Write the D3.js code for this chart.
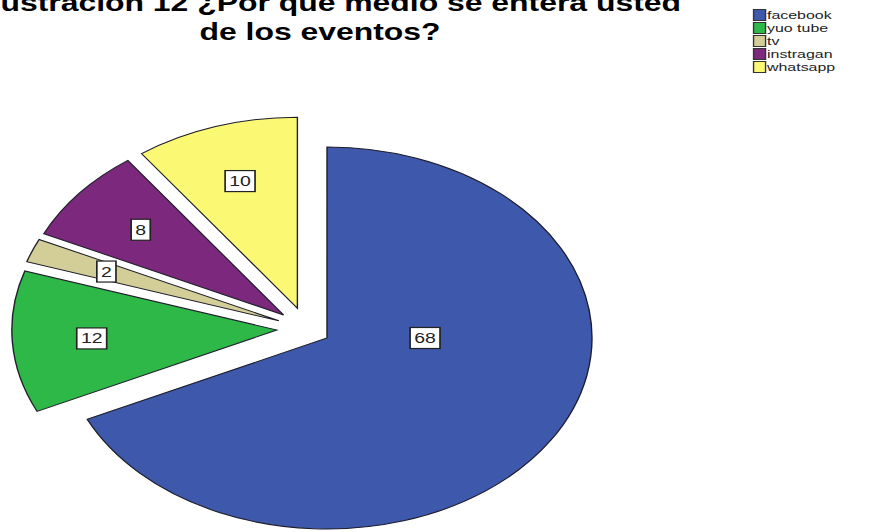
<!DOCTYPE html>
<html>
<head>
<meta charset="utf-8">
<script src="https://cdn.jsdelivr.net/npm/d3@7"></script>
<style>
  html, body { margin: 0; padding: 0; background: #fff; }
  svg { display: block; }
</style>
</head>
<body>
<svg id="chart" width="875" height="532"></svg>
<script>
// Survey answers: where people hear about events
const categories = ["facebook", "yuo tube", "tv", "instragan", "whatsapp"];
const values = [68, 12, 2, 8, 10];
const colors = ["#3e58ac", "#2eb848", "#d3ce97", "#7c287d", "#fbf873"];
const titleLines = ["Ilustración 12 ¿Por qué  medio se entera usted", "de los eventos?"];

const W = 875, H = 532;
const font = "'Liberation Sans', Arial, Helvetica, sans-serif";

// The whole figure is laid out on a narrower canvas and stretched wide.
const sx = 265 / 191;
const root = d3.select("#chart").append("g")
  .attr("transform", `scale(${sx},1)`);

// Title (first line runs past the top edge)
root.append("text")
  .attr("x", 681 / sx).attr("y", 10.5)
  .attr("text-anchor", "end")
  .attr("font-family", font).attr("font-weight", "bold").attr("font-size", 23)
  .attr("fill", "#000")
  .text(titleLines[0]);
root.append("text")
  .attr("x", 320 / sx).attr("y", 40)
  .attr("text-anchor", "middle")
  .attr("font-family", font).attr("font-weight", "bold").attr("font-size", 23)
  .attr("fill", "#000")
  .text(titleLines[1]);

// Pie geometry
const cx = 327 / sx, cy = 338, r = 191;
const pie = d3.pie().sort(null).value(d => d);
const arcs = pie(values);
const arc = d3.arc().innerRadius(0).outerRadius(r);

// Every slice except the first is pulled out: shared push along the
// group's mid angle plus a push along the slice's own mid angle.
const exploded = arcs.slice(1);
const groupMid = (exploded[0].startAngle + exploded[exploded.length - 1].endAngle) / 2;
const groupPush = 17.4, slicePush = 21.5;
function offset(d, i) {
  if (i === 0) return [0, 0];
  const mid = (d.startAngle + d.endAngle) / 2;
  return [
    groupPush * Math.sin(groupMid) + slicePush * Math.sin(mid),
    -(groupPush * Math.cos(groupMid) + slicePush * Math.cos(mid))
  ];
}

const pieG = root.append("g").attr("transform", `translate(${cx},${cy})`);

pieG.selectAll("path")
  .data(arcs)
  .join("path")
  .attr("d", arc)
  .attr("transform", (d, i) => { const o = offset(d, i); return `translate(${o[0]},${o[1]})`; })
  .attr("fill", (d, i) => colors[i])
  .attr("stroke", "#1e1e2a")
  .attr("stroke-width", 1)
  .attr("stroke-linejoin", "miter");

// Value labels in white boxes
arcs.forEach((d, i) => {
  const o = offset(d, i);
  const mid = (d.startAngle + d.endAngle) / 2;
  const big = d.endAngle - d.startAngle > Math.PI;
  const ang = big ? Math.PI / 2 : mid;
  const f = big ? 0.37 : 0.7;
  const x = o[0] + r * f * Math.sin(ang);
  const y = o[1] - r * f * Math.cos(ang);
  const g = pieG.append("g").attr("transform", `translate(${x},${y})`);
  const t = g.append("text")
    .attr("text-anchor", "middle")
    .attr("dy", "0.36em")
    .attr("font-family", font).attr("font-size", 14)
    .attr("fill", "#222")
    .text(d.value);
  const bb = t.node().getBBox();
  g.insert("rect", "text")
    .attr("x", bb.x - 3).attr("y", -10.5)
    .attr("width", bb.width + 6).attr("height", 21)
    .attr("fill", "#fff")
    .attr("stroke", "#222").attr("stroke-width", 1.2);
});

// Legend
const legend = root.append("g").attr("transform", `translate(${753 / sx},9)`);
const rowH = 13;
const rows = legend.selectAll("g")
  .data(categories)
  .join("g")
  .attr("transform", (d, i) => `translate(0,${i * rowH})`);
rows.append("rect")
  .attr("x", 0.4).attr("y", 0.5)
  .attr("width", 12 / sx).attr("height", 11)
  .attr("fill", (d, i) => colors[i])
  .attr("stroke", "#333").attr("stroke-width", 1);
rows.append("text")
  .attr("x", 14 / sx).attr("y", 10)
  .attr("font-family", font).attr("font-size", 11.5)
  .attr("fill", "#222")
  .text(d => d);
</script>
</body>
</html>
